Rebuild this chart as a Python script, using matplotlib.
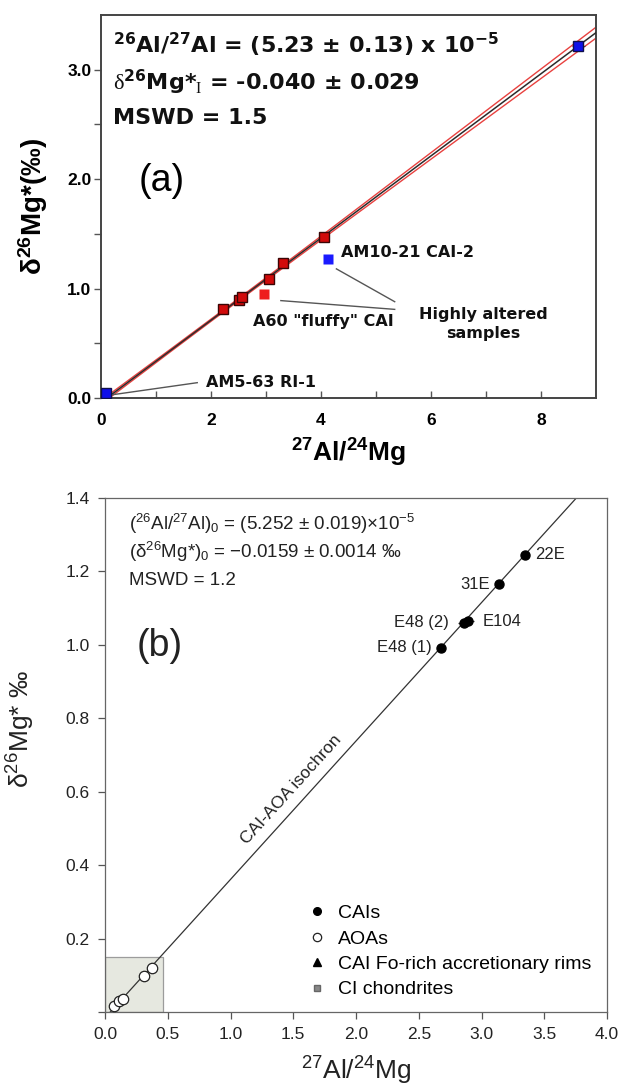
import matplotlib
matplotlib.use("Agg")
import matplotlib.pyplot as plt
import numpy as np
from matplotlib.lines import Line2D
from matplotlib.patches import Rectangle

plt.rcParams["font.family"] = ["Liberation Sans", "DejaVu Sans"]
plt.rcParams["mathtext.fontset"] = "custom"
plt.rcParams["mathtext.rm"] = "Liberation Sans"
plt.rcParams["mathtext.it"] = "Liberation Sans:italic"
plt.rcParams["mathtext.bf"] = "Liberation Sans:bold"
plt.rcParams["mathtext.sf"] = "DejaVu Sans:bold"
plt.rcParams["mathtext.tt"] = "Liberation Serif"

# ── Panel (a) data ───────────────────────────────────────────────────────────
iso_red_x = [2.22, 2.51, 2.57, 3.05, 3.31, 4.05]
iso_red_y = [0.81, 0.90, 0.92, 1.085, 1.23, 1.47]
iso_blue_x = [0.09, 8.68]
iso_blue_y = [0.05, 3.22]
iso_blue_xerr = [0.0, 0.12]
fluffy_x, fluffy_y = [2.97], [0.95]
altered_x, altered_y = [4.12], [1.27]

slope_a, icpt_a = 0.3754, -0.040
env_s0, env_sb, env_xm = 0.010, 0.007, 2.0

# ── Panel (b) data ───────────────────────────────────────────────────────────
cai_x = [2.676, 2.863, 2.889, 3.137, 3.343]
cai_y = [0.992, 1.060, 1.064, 1.165, 1.245]
cai_xerr = [0.0, 0.05, 0.05, 0.0, 0.0]
cai_names = ["E48 (1)", "E48 (2)", "E104", "31E", "22E"]
cai_offsets = [(-9, 0, "right"), (-15, 0, "right"), (15, 0, "left"), (-9, 0, "right"), (11, 0, "left")]
aoa_x = [0.073, 0.111, 0.143, 0.308, 0.374]
aoa_y = [0.017, 0.029, 0.036, 0.099, 0.120]

slope_b, icpt_b = 0.3770, -0.0159
box_w, box_h = 0.46, 0.15

W, H = 618, 1092
fig = plt.figure(figsize=(W / 100, H / 100), dpi=100)

# ── Panel (a) ────────────────────────────────────────────────────────────────
ax1 = fig.add_axes([101 / W, 1 - 398 / H, (596 - 101) / W, (398 - 15) / H])
ax1.set_xlim(0, 9)
ax1.set_ylim(0, 3.5)

xs = np.linspace(0, 9, 200)
fit = icpt_a + slope_a * xs
env = np.sqrt(env_s0 ** 2 + (env_sb * (xs - env_xm)) ** 2)
ax1.plot(xs, fit + env, color="#e8413f", lw=1.0, zorder=2)
ax1.plot(xs, fit - env, color="#e8413f", lw=1.0, zorder=2)
ax1.plot(xs, fit, color="#2b2b2b", lw=1.1, zorder=3)

ax1.plot(iso_red_x, iso_red_y, "s", ms=7.5, mfc="#d10a0a", mec="#3a0505", mew=1.0, ls="none", zorder=5)
ax1.errorbar(iso_blue_x, iso_blue_y, xerr=iso_blue_xerr, fmt="s", ms=7.5, mfc="#1010e8",
             mec="#10104a", mew=1.0, ecolor="#444", elinewidth=0.8, capsize=0, zorder=5)
ax1.plot(fluffy_x, fluffy_y, "s", ms=6.5, mfc="#ee1c1c", mec="none", ls="none", zorder=5)
ax1.plot(altered_x, altered_y, "s", ms=6.5, mfc="#1a1aff", mec="none", ls="none", zorder=5)

bold = dict(family="DejaVu Sans", weight="bold", color="#111")
ax1.text(0.21, 3.23, r"$^{\mathsf{26}}$Al/$^{\mathsf{27}}$Al = (5.23 ± 0.13) x 10$^{\mathsf{-5}}$",
         fontsize=16, va="center", **bold)
ax1.text(0.21, 2.88, r"$\mathtt{\delta}^{\mathsf{26}}$Mg*$_{\mathtt{I}}$ = -0.040 ± 0.029",
         fontsize=16, va="center", **bold)
ax1.text(0.21, 2.56, "MSWD = 1.5", fontsize=16, va="center", **bold)
ax1.text(0.68, 1.98, "(a)", fontsize=27, va="center", ha="left")

ann = dict(family="DejaVu Sans", weight="bold", fontsize=11.5, color="#111")
ax1.text(4.37, 1.33, "AM10-21 CAI-2", va="center", ha="left", **ann)
ax1.text(6.95, 0.675, "Highly altered\nsamples", va="center", ha="center", linespacing=1.35, **ann)
ax1.text(2.76, 0.70, 'A60 "fluffy" CAI', va="center", ha="left", **ann)
ax1.text(1.90, 0.14, "AM5-63 RI-1", va="center", ha="left", **ann)
for (x0, y0), (x1, y1) in [((0.21, 0.03), (1.75, 0.14)), ((3.27, 0.89), (5.34, 0.81)),
                           ((4.28, 1.18), (5.34, 0.88))]:
    ax1.plot([x0, x1], [y0, y1], color="#555", lw=1.0, zorder=4)

ax1.set_xticks([0, 2, 4, 6, 8])
ax1.set_xticks([1, 3, 5, 7], minor=True)
ax1.set_yticks([0, 1, 2, 3])
ax1.set_yticks([0.5, 1.5, 2.5], minor=True)
ax1.set_yticklabels(["0.0", "1.0", "2.0", "3.0"])
ax1.tick_params(axis="x", which="both", direction="in", length=5, width=1.0, color="#555")
ax1.tick_params(axis="y", which="both", direction="out", length=5, width=1.0, color="#555")
ax1.tick_params(axis="x", labelsize=12.5, pad=11)
ax1.tick_params(axis="y", labelsize=12.5, pad=2)
for lab in ax1.get_xticklabels() + ax1.get_yticklabels():
    lab.set_fontweight("bold")
for sp in ax1.spines.values():
    sp.set_color("#444")
    sp.set_linewidth(1.4)
ax1.set_xlabel(r"$^{\mathbf{27}}$Al/$^{\mathbf{24}}$Mg", fontsize=19, fontweight="bold", labelpad=6)
ax1.set_ylabel(r"δ$^{\mathbf{26}}$Mg*(‰)", fontsize=20, fontweight="bold", labelpad=12)

# ── Panel (b) ────────────────────────────────────────────────────────────────
ax2 = fig.add_axes([105 / W, 1 - 1012 / H, (607 - 105) / W, (1012 - 498) / H])
ax2.set_xlim(0, 4)
ax2.set_ylim(0, 1.4)

ax2.add_patch(Rectangle((0, 0), box_w, box_h, facecolor="#e6e8e0", edgecolor="#9c9c9c", lw=0.9, zorder=1))
xb = np.linspace(0, 4, 100)
ax2.plot(xb, icpt_b + slope_b * xb, color="#333", lw=0.9, zorder=2)

ax2.errorbar(cai_x, cai_y, xerr=cai_xerr, fmt="o", ms=6.5, mfc="black", mec="black",
             ecolor="#333", elinewidth=0.9, capsize=0, zorder=4)
ax2.plot(aoa_x, aoa_y, "o", ms=7.5, mfc="white", mec="#222", mew=0.9, ls="none", zorder=4)
for x, y, name, (dx, dy, ha) in zip(cai_x, cai_y, cai_names, cai_offsets):
    ax2.annotate(name, (x, y), xytext=(dx, dy), textcoords="offset pixels",
                 ha=ha, va="center", fontsize=12, color="#222")

ax2.text(0.19, 1.33, r"($^{26}$Al/$^{27}$Al)$_0$ = (5.252 ± 0.019)×10$^{-5}$", fontsize=13.5, va="center", color="#222")
ax2.text(0.19, 1.252, r"(δ$^{26}$Mg*)$_0$ = −0.0159 ± 0.0014 ‰", fontsize=13.5, va="center", color="#222")
ax2.text(0.19, 1.175, "MSWD = 1.2", fontsize=13.5, va="center", color="#222")
ax2.text(0.25, 0.997, "(b)", fontsize=27, va="center", ha="left", color="#222")
ax2.text(1.48, 0.605, "CAI-AOA isochron", fontsize=12.5, color="#222", ha="center", va="center",
         rotation=np.degrees(np.arctan(slope_b)), transform_rotates_text=True,
         rotation_mode="anchor")

handles = [
    Line2D([0], [0], marker="o", ls="none", ms=5.5, mfc="black", mec="black"),
    Line2D([0], [0], marker="o", ls="none", ms=6, mfc="white", mec="#222", mew=0.9),
    Line2D([0], [0], marker="^", ls="none", ms=5.5, mfc="black", mec="black"),
    Line2D([0], [0], marker="s", ls="none", ms=5, mfc="#888", mec="#666"),
]
labels = ["CAIs", "AOAs", "CAI Fo-rich accretionary rims", "CI chondrites"]
ax2.legend(handles, labels, loc="lower left", bbox_to_anchor=(0.375, 0.0), frameon=False,
           fontsize=14, handlelength=1.0, handletextpad=0.6, labelspacing=0.4, borderpad=0.2)

ax2.set_xticks(np.arange(0, 4.01, 0.5))
ax2.set_xticklabels([f"{v:.1f}" for v in np.arange(0, 4.01, 0.5)])
ax2.set_yticks(np.arange(0, 1.41, 0.2))
ax2.set_yticklabels([""] + [f"{v:.1f}" for v in np.arange(0.2, 1.41, 0.2)])
ax2.tick_params(axis="both", direction="out", length=5, width=0.9, color="#555",
                labelsize=12.5, labelcolor="#222", pad=6)
for sp in ax2.spines.values():
    sp.set_color("#666")
    sp.set_linewidth(0.9)
ax2.set_xlabel(r"$^{27}$Al/$^{24}$Mg", fontsize=19, labelpad=9, color="#222")
ax2.set_ylabel(r"δ$^{26}$Mg* ‰", fontsize=19, color="#222")
ax2.yaxis.set_label_coords(-0.135, 0.55)

fig.savefig("out.png", dpi=100)
